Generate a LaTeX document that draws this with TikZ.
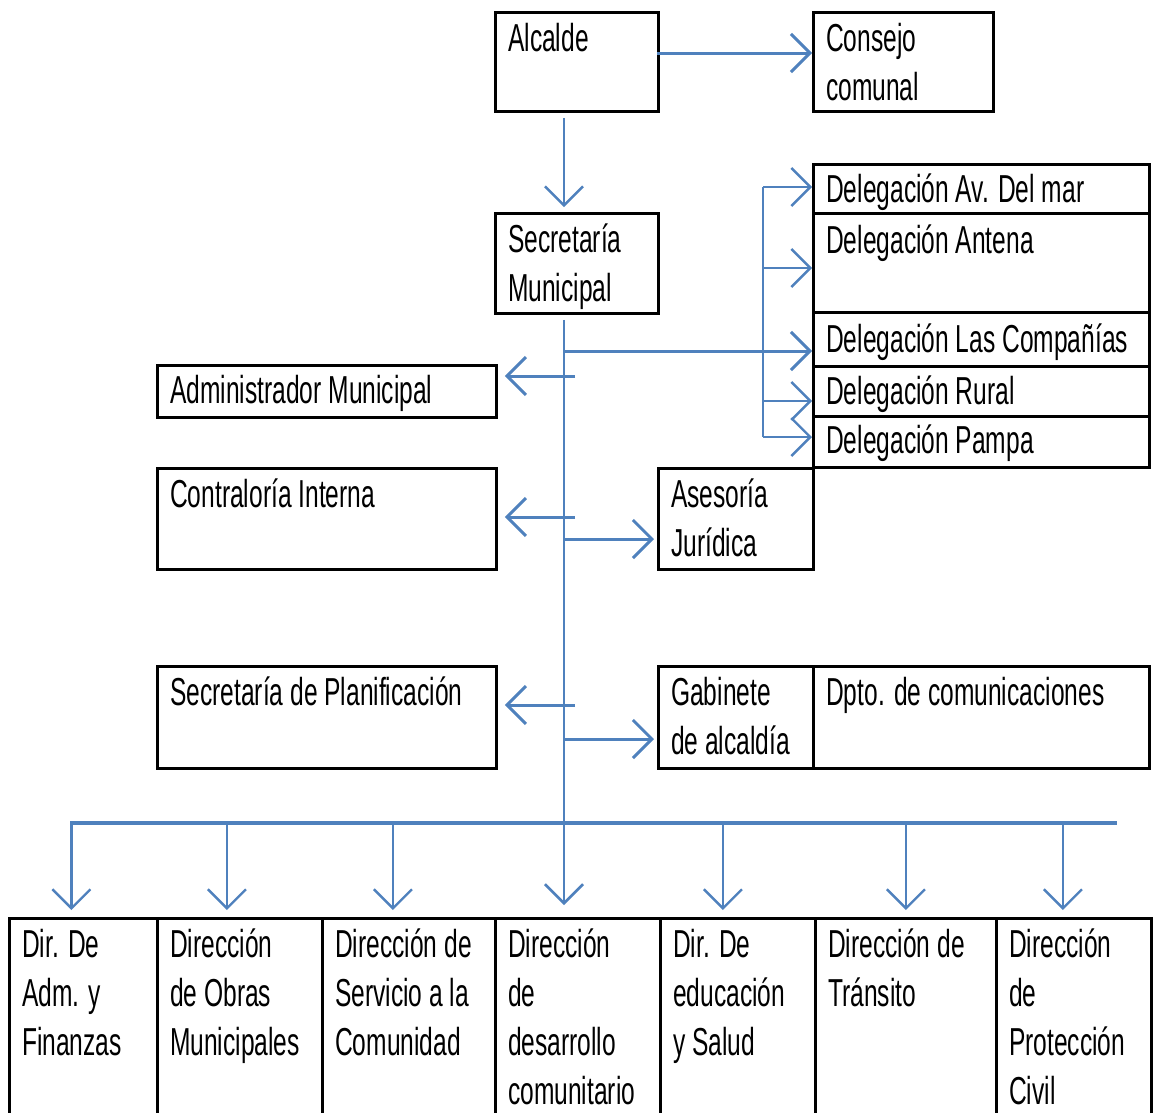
\documentclass[tikz,border=0pt]{standalone}
\usepackage{fontspec}
\setmainfont[FakeStretch=0.63]{Liberation Sans}
\usetikzlibrary{arrows.meta}
\definecolor{linkblue}{RGB}{79,129,189}
\tikzset{
  unit/.style={draw, line width=2.8pt, anchor=north west, inner sep=0pt},
  txt/.style={anchor=north west, align=left, inner xsep=14pt, inner ysep=12pt,
    font=\fontsize{39}{49}\selectfont},
  link/.style={draw=linkblue, line width=3pt},
  arr/.style={link, -{Straight Barb[length=19pt,width=38pt]}},
}
\begin{document}
\begin{tikzpicture}[x=1pt, y=-1pt]
  \useasboundingbox[fill=white] (0,0) rectangle (1157,1112);
  % top
  \node[unit, minimum width=163pt, minimum height=99pt] (alc) at (494,11) {};
  \node[unit, minimum width=180pt, minimum height=99pt] (cons) at (812,11) {};
  \node[unit, minimum width=163pt, minimum height=100pt] (sec) at (494,212) {};
  \node[txt] (alc-t) at (alc.north west) {Alcalde};
  \node[txt] (cons-t) at (cons.north west) {Consejo\\comunal};
  \node[txt] (sec-t) at (sec.north west) {Secretaría\\Municipal};
  % delegaciones
  \node[unit, minimum width=336pt, minimum height=49pt] (avm) at (812,163) {};
  \node[unit, minimum width=336pt, minimum height=99pt] (ant) at (812,212) {};
  \node[unit, minimum width=336pt, minimum height=54pt] (lco) at (812,311) {};
  \node[unit, minimum width=336pt, minimum height=50pt] (rur) at (812,365) {};
  \node[unit, minimum width=336pt, minimum height=51pt] (pam) at (812,415) {};
  \node[txt, inner ysep=11pt] (avm-t) at (avm.north west) {Delegación Av. Del mar};
  \node[txt, inner ysep=13pt] (ant-t) at (ant.north west) {Delegación Antena};
  \node[txt, inner ysep=13pt] (lco-t) at (lco.north west) {Delegación Las Compañías};
  \node[txt, inner ysep=11pt] (rur-t) at (rur.north west) {Delegación Rural};
  \node[txt, inner ysep=10pt] (pam-t) at (pam.north west) {Delegación Pampa};
  % staff units
  \node[unit, minimum width=339pt, minimum height=52pt] (adm) at (156,364) {};
  \node[unit, minimum width=339pt, minimum height=101pt] (con) at (156,467) {};
  \node[unit, minimum width=339pt, minimum height=102pt] (pla) at (156,665) {};
  \node[unit, minimum width=155pt, minimum height=101pt] (ase) at (657,467) {};
  \node[unit, minimum width=155pt, minimum height=102pt] (gab) at (657,665) {};
  \node[unit, minimum width=336pt, minimum height=102pt] (dpt) at (812,665) {};
  \node[txt, inner ysep=11pt] (adm-t) at (adm.north west) {Administrador Municipal};
  \node[txt] (con-t) at (con.north west) {Contraloría Interna};
  \node[txt] (pla-t) at (pla.north west) {Secretaría de Planificación};
  \node[txt] (ase-t) at (ase.north west) {Asesoría\\Jurídica};
  \node[txt] (gab-t) at (gab.north west) {Gabinete\\de alcaldía};
  \node[txt] (dpt-t) at (dpt.north west) {Dpto. de comunicaciones};
  % direcciones
  \node[unit, minimum width=148pt, minimum height=200pt] (d1) at (8,917) {};
  \node[unit, minimum width=165pt, minimum height=200pt] (d2) at (156,917) {};
  \node[unit, minimum width=173pt, minimum height=200pt] (d3) at (321,917) {};
  \node[unit, minimum width=165pt, minimum height=200pt] (d4) at (494,917) {};
  \node[unit, minimum width=155pt, minimum height=200pt] (d5) at (659,917) {};
  \node[unit, minimum width=181pt, minimum height=200pt] (d6) at (814,917) {};
  \node[unit, minimum width=155pt, minimum height=200pt] (d7) at (995,917) {};
  \node[txt] (d1-t) at (d1.north west) {Dir. De\\Adm. y\\Finanzas};
  \node[txt] (d2-t) at (d2.north west) {Dirección\\de Obras\\Municipales};
  \node[txt] (d3-t) at (d3.north west) {Dirección de\\Servicio a la\\Comunidad};
  \node[txt] (d4-t) at (d4.north west) {Dirección\\de\\desarrollo\\comunitario};
  \node[txt] (d5-t) at (d5.north west) {Dir. De\\educación\\y Salud};
  \node[txt] (d6-t) at (d6.north west) {Dirección de\\Tránsito};
  \node[txt] (d7-t) at (d7.north west) {Dirección\\de\\Protección\\Civil};
  % connectors
  \coordinate (spx) at (564,0);
  \coordinate (top) at (657,53);
  \draw[arr] (top) -- (top -| cons.west);
  \draw[arr, line width=2.4pt, shorten <=5pt, shorten >=5pt] (alc.south -| spx) -- (sec.north -| spx);
  \draw[arr, line width=2.6pt, shorten <=5pt, shorten >=12pt] (sec.south -| spx) -- (d4.north -| spx);
  \coordinate (tapL) at (564,351);
  \coordinate (tapJ) at (564,539);
  \coordinate (tapG) at (564,739);
  \draw[arr] (tapL) -- (tapL -| lco.west);
  \draw[arr, shorten >=3pt] (tapJ) -- (tapJ -| ase.west);
  \draw[arr, shorten >=3pt] (tapG) -- (tapG -| gab.west);
  \coordinate (tapA) at (575,376);
  \coordinate (tapC) at (575,517);
  \coordinate (tapP) at (575,705);
  \draw[arr, shorten >=7pt] (tapA) -- (tapA -| adm.east);
  \draw[arr, shorten >=7pt] (tapC) -- (tapC -| con.east);
  \draw[arr, shorten >=7pt] (tapP) -- (tapP -| pla.east);
  % branch to delegaciones
  \coordinate (brT) at (763,187);
  \coordinate (brA) at (763,268);
  \coordinate (brR) at (763,401);
  \coordinate (brB) at (763,437);
  \draw[link, line width=2.2pt] (brT) -- (brB);
  \foreach \b/\n in {brT/avm, brA/ant, brR/rur, brB/pam}
    \draw[arr, line width=2.4pt] (\b) -- (\b -| \n.west);
  % bus to direcciones
  \coordinate (busL) at (70,823);
  \coordinate (busR) at (1117,823);
  \draw[link, line width=3.4pt] (busL) -- (busR);
  \foreach \n/\dx in {d1/-12, d2/-13, d3/-16, d5/-15, d6/0, d7/-11}
    \draw[arr, line width=2.4pt, shorten >=7pt] ([xshift=\dx pt]\n.north |- busL) -- ([xshift=\dx pt]\n.north);
\end{tikzpicture}
\end{document}
